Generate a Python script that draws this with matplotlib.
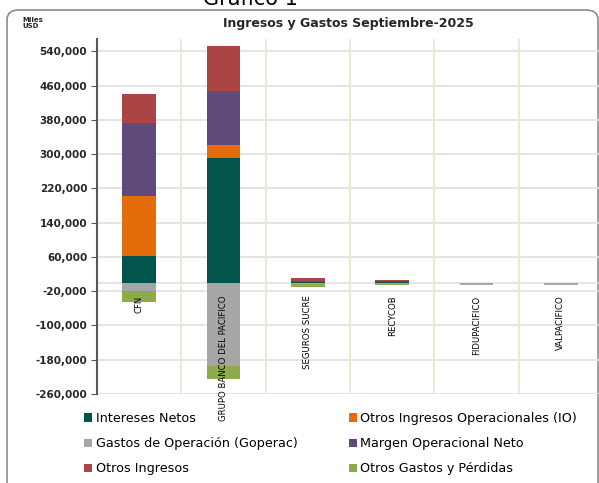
import matplotlib.pyplot as plt
from matplotlib.patches import FancyBboxPatch, Patch
import numpy as np

# data (miles USD)
categories = ['CFN', 'GRUPO BANCO DEL PACIFICO', 'SEGUROS SUCRE', 'RECYCOB',
              'FIDUPACIFICO', 'VALPACIFICO']
intereses = [63300, 290000, 1500, 500, 0, 0]
otros_io = [139600, 32000, 300, 1500, 0, 0]
margen = [169900, 126200, 2000, 2000, 0, 0]
otros_ing = [67700, 103600, 6000, 2500, 0, 0]
gastos = [-19900, -194400, -3000, -2500, -6500, -6500]
otros_gastos = [-24300, -31100, -8000, -3500, 0, 0]
yticks = [540000, 460000, 380000, 300000, 220000, 140000, 60000,
          -20000, -100000, -180000, -260000]

c_int = '#03544c'
c_io = '#e46c0a'
c_gas = '#a6a6a6'
c_mar = '#604a7b'
c_oin = '#ab4545'
c_ogp = '#8eab4c'

fig = plt.figure(figsize=(5.99, 4.83), dpi=100)

# rounded frame
frame = FancyBboxPatch((7 / 599, -0.05), 591 / 599, 1 - 10 / 483 + 0.05,
                       boxstyle='round,pad=0,rounding_size=0.02',
                       transform=fig.transFigure, facecolor='none',
                       edgecolor='#8c8c8c', linewidth=1.2, zorder=-1)
fig.patches.append(frame)

ax = fig.add_axes([97 / 599, 1 - 394 / 483, 506 / 599, 355 / 483])
ax.set_facecolor('none')

x = np.arange(len(categories))
w = 0.4
pos_bottom = np.zeros(len(x))
for vals, col in [(intereses, c_int), (otros_io, c_io), (margen, c_mar), (otros_ing, c_oin)]:
    ax.bar(x, vals, w, bottom=pos_bottom, color=col, linewidth=0, zorder=3)
    pos_bottom += np.array(vals)
neg_bottom = np.zeros(len(x))
for vals, col in [(gastos, c_gas), (otros_gastos, c_ogp)]:
    ax.bar(x, vals, w, bottom=neg_bottom, color=col, linewidth=0, zorder=3)
    neg_bottom += np.array(vals)

ax.set_xlim(-0.5, len(x) - 0.5)
ax.set_ylim(-260000, 569000)
ax.set_yticks(yticks)
ax.set_yticklabels([f'{v:,}' for v in yticks], fontsize=7.5, fontweight='bold',
                   color='#262626')
ax.set_xticks([])

for yv in yticks + [0]:
    ax.axhline(yv, color='#e3e3e3', lw=1.3, zorder=1)
for xv in np.arange(0.5, len(x) - 0.5, 1):
    ax.axvline(xv, color='#ece6d2', lw=1.3, zorder=1)

for s in ['top', 'right', 'bottom']:
    ax.spines[s].set_visible(False)
ax.spines['left'].set_color('#595959')
ax.spines['left'].set_linewidth(1.5)
ax.tick_params(axis='y', length=4, color='#595959', pad=3)

# narrow category labels
for xi, name in zip(x, categories):
    ax.text(xi, -30000, name, rotation=90, ha='center', va='top', fontsize=6.8,
            family='DejaVu Sans', fontstretch='condensed', clip_on=False)

fig.text(348 / 599, 1 - 23 / 483, 'Ingresos y Gastos Septiembre-2025',
         ha='center', va='center', fontsize=9, fontweight='bold', color='#262626')
fig.text(250 / 599, 1 - 5 / 483, 'Gráfico 1', ha='center', va='baseline',
         fontsize=15, color='black')
fig.text(22 / 599, 1 - 17 / 483, 'Miles\nUSD', ha='left', va='top', fontsize=5,
         fontweight='bold', color='#262626', linespacing=1.1)

left_items = [('Intereses Netos', c_int), ('Gastos de Operación (Goperac)', c_gas),
              ('Otros Ingresos', c_oin)]
right_items = [('Otros Ingresos Operacionales (IO)', c_io),
               ('Margen Operacional Neto', c_mar),
               ('Otros Gastos y Pérdidas', c_ogp)]
for items, xpos in [(left_items, 84 / 599), (right_items, 349 / 599)]:
    handles = [Patch(facecolor=c, edgecolor='none') for _, c in items]
    fig.legend(handles, [l for l, _ in items], loc='upper left',
               bbox_to_anchor=(xpos, 1 - 412 / 483), frameon=False, fontsize=9.2,
               handlelength=0.6, handleheight=0.6, handletextpad=0.3,
               labelspacing=0.95, borderpad=0, borderaxespad=0)

fig.savefig('out.png', dpi=100)
